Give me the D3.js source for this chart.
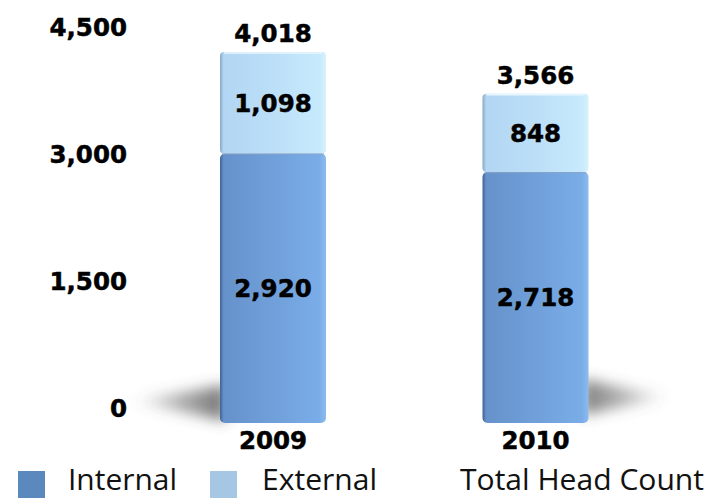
<!DOCTYPE html>
<html>
<head>
<meta charset="utf-8">
<script src="https://cdn.jsdelivr.net/npm/d3@7"></script>
<style>
  html, body { margin: 0; padding: 0; background: #fff; }
  svg { display: block; }
</style>
</head>
<body>
<svg id="chart" width="711" height="498"></svg>
<script>
// Head count by year, split into internal and external staff
const years = ["2009", "2010"];
const internal = [2920, 2718];
const external = [1098, 848];
const totals = [4018, 3566];
const yTicks = [0, 1500, 3000, 4500];
const legendLabels = ["Internal", "External", "Total Head Count"];

const svg = d3.select("#chart");
const defs = svg.append("defs");

// Horizontal shading for the two segment types
function shade(id, stops, dir) {
  const g = defs.append("linearGradient").attr("id", id)
    .attr("x1", dir === "rtl" ? "100%" : "0%").attr("x2", dir === "rtl" ? "0%" : "100%")
    .attr("y1", "0%").attr("y2", "0%");
  stops.forEach(([o, c, a]) => g.append("stop").attr("offset", o)
    .attr("stop-color", c).attr("stop-opacity", a == null ? 1 : a));
}
shade("gInt", [["0%", "#3f6193"], ["3.5%", "#6692cb"], ["45%", "#6f9ed8"], ["94%", "#7aade8"], ["100%", "#8cbbee"]]);
shade("gExt", [["0%", "#86a9c9"], ["3.5%", "#b2d6f3"], ["50%", "#bcdff8"], ["94%", "#c7eafc"], ["100%", "#d8f1fd"]]);
// floor shadows fade away from the column
shade("gShL", [["0%", "#555", 0], ["55%", "#555", 0.5], ["100%", "#444", 0.75]]);
shade("gShR", [["0%", "#555", 0], ["55%", "#555", 0.45], ["100%", "#444", 0.7]], "rtl");

defs.append("filter").attr("id", "soft").attr("x", "-50%").attr("y", "-100%")
  .attr("width", "200%").attr("height", "300%")
  .append("feGaussianBlur").attr("stdDeviation", 7);

// Scales
const barW = 106;
const x = d3.scalePoint().domain(years).range([273, 535.5]);
const y = d3.scaleLinear().domain([0, 4500]).range([423, 7.6]);
// axis labels sit on the receding back wall of the 3-D plot
const yAxisScale = d3.scaleLinear().domain([0, 4500]).range([408, 27]);

const data = years.map((yr, i) => ({
  year: yr, internal: internal[i], external: external[i], total: totals[i], i
}));

// Floor shadows cast outward from each column
const shadowG = svg.append("g").attr("filter", "url(#soft)");
data.forEach(d => {
  const left = x(d.year) - barW / 2, right = x(d.year) + barW / 2;
  const base = y(0);
  const pts = d.i === 0
    ? [[left + 6, base - 38], [left - 90, base - 22], [left + 6, base - 2]]
    : [[right - 6, base - 44], [right + 82, base - 26], [right - 6, base - 8]];
  shadowG.append("path")
    .attr("d", d3.line()(pts) + "Z")
    .attr("fill", d.i === 0 ? "url(#gShL)" : "url(#gShR)");
});

// Stacked columns
const bars = svg.append("g");
data.forEach(d => {
  const left = x(d.year) - barW / 2;
  bars.append("rect")
    .attr("x", left).attr("width", barW)
    .attr("y", y(d.internal)).attr("height", y(0) - y(d.internal))
    .attr("rx", 5).attr("fill", "url(#gInt)");
  bars.append("rect")
    .attr("x", left).attr("width", barW)
    .attr("y", y(d.internal + d.external)).attr("height", y(d.internal) - y(d.internal + d.external))
    .attr("rx", 4).attr("fill", "url(#gExt)");
  // seam between the segments
  bars.append("line")
    .attr("x1", left + 2).attr("x2", left + barW - 2)
    .attr("y1", y(d.internal) + 0.5).attr("y2", y(d.internal) + 0.5)
    .attr("stroke", "#8aa6c4").attr("stroke-width", 1.2).attr("opacity", 0.7);
  // top highlight
  bars.append("line")
    .attr("x1", left + 4).attr("x2", left + barW - 4)
    .attr("y1", y(d.internal + d.external) + 1).attr("y2", y(d.internal + d.external) + 1)
    .attr("stroke", "#e8f7ff").attr("stroke-width", 1.5);
});

const boldFont = "'DejaVu Sans', Verdana, sans-serif";

// Y axis labels
const yAxis = d3.axisLeft(yAxisScale).tickValues(yTicks)
  .tickFormat(d3.format(",")).tickSize(0).tickPadding(0);
const axisG = svg.append("g").attr("transform", "translate(127,0)").call(yAxis);
axisG.select(".domain").remove();
axisG.selectAll("text")
  .attr("font-family", boldFont).attr("font-weight", "bold")
  .attr("font-size", 24.5).attr("fill", "#000").attr("stroke", "#000")
  .attr("stroke-width", 0.5).attr("dy", "0.36em");

// Value labels
const lbl = svg.append("g")
  .attr("font-family", boldFont).attr("font-weight", "bold")
  .attr("font-size", 24.5).attr("fill", "#000").attr("stroke", "#000")
  .attr("stroke-width", 0.5).attr("text-anchor", "middle");
data.forEach(d => {
  const cx = x(d.year);
  lbl.append("text").attr("x", cx).attr("y", (y(0) + y(d.internal)) / 2)
    .attr("dy", "0.36em").text(d3.format(",")(d.internal));
  lbl.append("text").attr("x", cx).attr("y", (y(d.internal) + y(d.internal + d.external)) / 2)
    .attr("dy", "0.36em").text(d3.format(",")(d.external));
  lbl.append("text").attr("x", cx).attr("y", y(d.total) - 10)
    .text(d3.format(",")(d.total));
  lbl.append("text").attr("x", cx).attr("y", y(0) + 26).text(d.year);
});

// Legend
const legend = svg.append("g").attr("font-family", "'Open Sans', sans-serif")
  .attr("font-size", 28.5).attr("fill", "#111");
const legendItems = [
  { label: legendLabels[0], swatch: "#5b88bd", sx: 18, tx: 68, w: 109 },
  { label: legendLabels[1], swatch: "#a5c7e3", sx: 210, tx: 262, w: 115 },
  { label: legendLabels[2], swatch: null, sx: 0, tx: 460, w: 244 }
];
legendItems.forEach(it => {
  if (it.swatch) {
    legend.append("rect").attr("x", it.sx).attr("y", 471)
      .attr("width", 27).attr("height", 27).attr("fill", it.swatch);
  }
  legend.append("text").attr("x", it.tx).attr("y", 489.5)
    .attr("textLength", it.w).attr("lengthAdjust", "spacingAndGlyphs")
    .text(it.label);
});
</script>
</body>
</html>
